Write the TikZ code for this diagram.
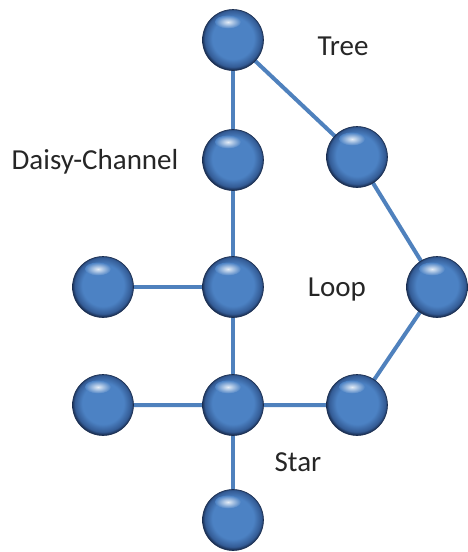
\documentclass[tikz,border=0pt]{standalone}
\usepackage{fontspec}
\setmainfont{Carlito}
\definecolor{linkblue}{RGB}{79,129,189}
\definecolor{sphmid}{RGB}{76,130,196}
\definecolor{sphedge}{RGB}{52,92,150}
\definecolor{sphdark}{RGB}{25,45,80}
% body of a sphere: flat blue middle that darkens towards the rim
\pgfdeclareradialshading{sphbody}{\pgfpoint{0bp}{2bp}}{%
  color(0bp)=(sphmid); color(17bp)=(sphmid); color(23bp)=(sphedge);
  color(25.5bp)=(sphdark); color(50bp)=(sphdark)}
\begin{document}
\begin{tikzpicture}[x=1pt,y=-1pt,
  sphere/.style={circle,minimum size=61pt,inner sep=0pt,shading=sphbody,draw=sphdark,line width=0.6pt},
  gloss/.style={inner color=white!85!sphmid,outer color=sphmid},
  link/.style={draw=linkblue,line width=4pt},
  lbl/.style={font=\fontsize{29}{33}\selectfont,text=black!85}]
\useasboundingbox (0,0) rectangle (468,552);
% positions of the spheres
\coordinate (p1) at (233,40);
\coordinate (p2) at (233,160);
\coordinate (p3) at (357,157);
\coordinate (p4) at (103,287);
\coordinate (p5) at (233,287);
\coordinate (p6) at (437,287);
\coordinate (p7) at (103,405);
\coordinate (p8) at (233,405);
\coordinate (p9) at (357,405);
\coordinate (p10) at (233,520);
% links first, so the spheres sit on top of them
\draw[link] (p1) -- (p2) -- (p5) -- (p8) -- (p10);
\draw[link] (p1) -- (p3) -- (p6) -- (p9) -- (p8) -- (p7);
\draw[link] (p4) -- (p5);
\foreach \i in {1,...,10} {
  \node[sphere] (n\i) at (p\i) {};
  \shade[gloss,shift={(n\i)}] (-5,-18) ellipse[x radius=13,y radius=6.5];
}
\node[lbl] (tree) at (343,46) {Tree};
\node[lbl] (daisy) at (95,162) {Daisy-Channel};
\node[lbl] (loop) at (337,290) {Loop};
\node[lbl] (star) at (298,462) {Star};
\end{tikzpicture}
\end{document}
